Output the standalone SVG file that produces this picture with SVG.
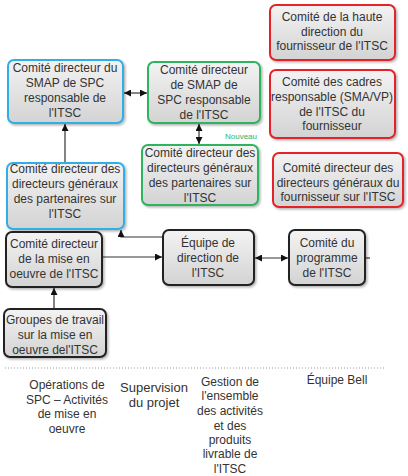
<svg xmlns="http://www.w3.org/2000/svg" width="408" height="476" viewBox="0 0 408 476">
<defs>
<linearGradient id="g" x1="0" y1="0" x2="0" y2="1">
<stop offset="0" stop-color="#f3f3f3"/>
<stop offset="1" stop-color="#d3d3d3"/>
</linearGradient>
<filter id="sh" x="-10%" y="-10%" width="130%" height="130%">
<feDropShadow dx="1.5" dy="1.5" stdDeviation="1" flood-color="#000" flood-opacity="0.3"/>
</filter>
<marker id="ah" viewBox="0 0 10 10" refX="10" refY="5" markerWidth="7" markerHeight="7" orient="auto-start-reverse" markerUnits="userSpaceOnUse">
<path d="M0,0 L10,5 L0,10 z" fill="#111"/>
</marker>
</defs>
<style>
.box{fill:url(#g);stroke-width:2;filter:url(#sh)}
.blue{stroke:#30aee6}
.green{stroke:#2fb35e}
.red{stroke:#e5222a}
.black{stroke:#222}
text{font-family:"Liberation Sans",Arial,sans-serif;font-size:12px;fill:#333;text-anchor:middle}
.c{stroke:#333;stroke-width:1.2;fill:none}
.nv{font-size:8px;fill:#2fb35e}
</style>
<g id="connectors">
<line class="c" x1="65" y1="163" x2="65" y2="124" marker-end="url(#ah)"/>
<line class="c" x1="124" y1="93" x2="147" y2="93" marker-start="url(#ah)" marker-end="url(#ah)"/>
<line class="c" x1="199" y1="124" x2="199" y2="144" marker-start="url(#ah)" marker-end="url(#ah)"/>
<polyline class="c" points="163,237 121,237 121,230" marker-end="url(#ah)"/>
<line class="c" x1="103" y1="257" x2="162" y2="257" marker-end="url(#ah)"/>
<line class="c" x1="255" y1="258" x2="288" y2="258" marker-start="url(#ah)" marker-end="url(#ah)"/>
<line class="c" x1="54" y1="309" x2="54" y2="288" marker-end="url(#ah)"/>
<line class="c" x1="365" y1="258" x2="370" y2="258"/>
<line x1="5" y1="368" x2="386" y2="368" stroke="#999" stroke-width="1" stroke-dasharray="1,2"/>
</g>
<g id="n1"><rect class="box blue" x="8" y="60" width="115" height="63" rx="6"/>
<text x="65" y="72">Comité directeur du</text><text x="65" y="87">SMAP de SPC</text><text x="65" y="102">responsable de</text><text x="65" y="117">l'ITSC</text></g>
<g id="n2"><rect class="box green" x="148" y="62" width="112" height="61" rx="6"/>
<text x="204" y="74">Comité directeur</text><text x="204" y="89">de SMAP de</text><text x="204" y="104">SPC responsable</text><text x="204" y="119">de l'ITSC</text></g>
<text class="nv" x="241" y="139">Nouveau</text>
<g id="n3"><rect class="box green" x="142" y="145" width="116" height="60" rx="6"/>
<text x="200" y="157">Comité directeur des</text><text x="200" y="172">directeurs généraux</text><text x="200" y="187">des partenaires sur</text><text x="200" y="202">l'ITSC</text></g>
<g id="n4"><rect class="box blue" x="7" y="163" width="117" height="66" rx="6"/>
<text x="65" y="173">Comité directeur des</text><text x="65" y="188">directeurs généraux</text><text x="65" y="203">des partenaires sur</text><text x="65" y="218">l'ITSC</text></g>
<g id="n5"><rect class="box black" x="6" y="232" width="96" height="55" rx="6"/>
<text x="54" y="248">Comité directeur</text><text x="54" y="263">de la mise en</text><text x="54" y="278">oeuvre de l'ITSC</text></g>
<g id="n6"><rect class="box black" x="163" y="230" width="91" height="55" rx="6"/>
<text x="208" y="247">Équipe de</text><text x="208" y="262">direction de</text><text x="208" y="277">l'ITSC</text></g>
<g id="n7"><rect class="box black" x="289" y="230" width="76" height="55" rx="6"/>
<text x="327" y="247">Comité du</text><text x="327" y="262">programme</text><text x="327" y="277">de l'ITSC</text></g>
<g id="n8"><rect class="box black" x="4" y="309" width="102" height="48" rx="6"/>
<text x="55" y="324">Groupes de travail</text><text x="55" y="339">sur la mise en</text><text x="55" y="354">oeuvre del'ITSC</text></g>
<g id="n9"><rect class="box red" x="270" y="5" width="125" height="55" rx="6"/>
<text x="332" y="21">Comité de la haute</text><text x="332" y="36">direction du</text><text x="332" y="50">fournisseur de l'ITSC</text></g>
<g id="n10"><rect class="box red" x="270" y="70" width="125" height="68" rx="6"/>
<text x="332" y="86">Comité des cadres</text><text x="332" y="101">responsable (SMA/VP)</text><text x="332" y="116">de l'ITSC du</text><text x="332" y="130">fournisseur</text></g>
<g id="n11"><rect class="box red" x="273" y="153" width="130" height="54" rx="6"/>
<text x="338" y="172">Comité directeur des</text><text x="338" y="187">directeurs généraux du</text><text x="338" y="201">fournisseur sur l'ITSC</text></g>
<g id="labels">
<text x="67" y="389">Opérations de</text><text x="67" y="404">SPC – Activités</text><text x="67" y="418">de mise en</text><text x="67" y="433">oeuvre</text>
<text x="154" y="392" style="font-size:13px">Supervision</text><text x="154" y="407" style="font-size:13px">du projet</text>
<text x="230" y="386">Gestion de</text><text x="230" y="400">l'ensemble</text><text x="230" y="415">des activités</text><text x="230" y="430">et des</text><text x="230" y="444">produits</text><text x="230" y="458">livrable de</text><text x="230" y="473">l'ITSC</text>
<text x="337" y="384">Équipe Bell</text>
</g>
</svg>
